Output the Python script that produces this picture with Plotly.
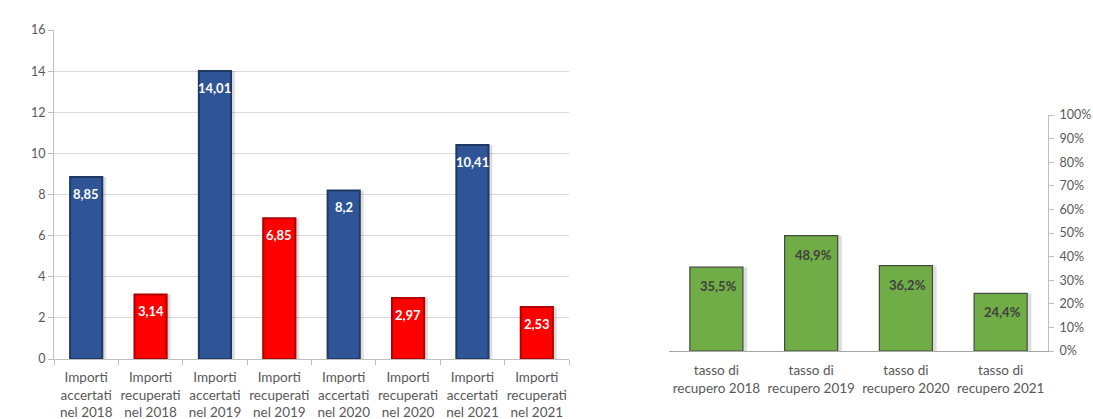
import plotly.graph_objects as go

# Importi accertati / recuperati (left panel)
categorie = [
    "Importi<br>accertati<br>nel 2018", "Importi<br>recuperati<br>nel 2018",
    "Importi<br>accertati<br>nel 2019", "Importi<br>recuperati<br>nel 2019",
    "Importi<br>accertati<br>nel 2020", "Importi<br>recuperati<br>nel 2020",
    "Importi<br>accertati<br>nel 2021", "Importi<br>recuperati<br>nel 2021",
]
importi = [8.85, 3.14, 14.01, 6.85, 8.2, 2.97, 10.41, 2.53]
etichette_importi = ["8,85", "3,14", "14,01", "6,85", "8,2", "2,97", "10,41", "2,53"]
tipo = ["accertati", "recuperati"] * 4

# Tasso di recupero (right panel)
categorie_tasso = [
    "tasso di<br>recupero 2018", "tasso di<br>recupero 2019",
    "tasso di<br>recupero 2020", "tasso di<br>recupero 2021",
]
tasso = [0.355, 0.489, 0.362, 0.244]
etichette_tasso = ["35,5%", "48,9%", "36,2%", "24,4%"]

W, H = 1093, 419
FONT = "Lato, 'Open Sans', sans-serif"
GREY = "#595959"

fill = {"accertati": "#2F5597", "recuperati": "#FF0000"}
edge = {"accertati": "#1F3864", "recuperati": "#B00000"}

fig = go.Figure()

# soft drop shadows behind the bars
fig.add_trace(go.Bar(
    x=categorie, y=importi, width=0.5, offset=-0.25 + 0.06,
    marker=dict(color="rgba(0,0,0,0.13)", line=dict(width=0)),
    xaxis="x", yaxis="y", hoverinfo="skip", showlegend=False,
))
fig.add_trace(go.Bar(
    x=categorie, y=importi, width=0.5, offset=-0.25,
    marker=dict(color=[fill[t] for t in tipo],
                line=dict(color=[edge[t] for t in tipo], width=2)),
    xaxis="x", yaxis="y", showlegend=False,
))

fig.add_trace(go.Bar(
    x=categorie_tasso, y=tasso, width=0.56, offset=-0.28 + 0.045,
    marker=dict(color="rgba(0,0,0,0.13)", line=dict(width=0)),
    xaxis="x2", yaxis="y2", hoverinfo="skip", showlegend=False,
))
fig.add_trace(go.Bar(
    x=categorie_tasso, y=tasso, width=0.56, offset=-0.28,
    marker=dict(color="#70AD47", line=dict(color="#454B41", width=1.2)),
    xaxis="x2", yaxis="y2", showlegend=False,
))

# value labels inside the top of each bar
for c, v, t in zip(categorie, importi, etichette_importi):
    fig.add_annotation(x=c, y=v, text=f"<b>{t}</b>", xref="x", yref="y",
                       yanchor="top", yshift=-7, showarrow=False,
                       font=dict(family=FONT, size=13, color="white"))
for c, v, t in zip(categorie_tasso, tasso, etichette_tasso):
    fig.add_annotation(x=c, y=v, text=f"<b>{t}</b>", xref="x2", yref="y2",
                       yanchor="top", yshift=-9, xshift=2, showarrow=False,
                       font=dict(family=FONT, size=13, color="#404040"))

fig.update_layout(
    width=W, height=H,
    margin=dict(l=0, r=0, t=0, b=0),
    paper_bgcolor="white", plot_bgcolor="white",
    font=dict(family=FONT, size=13, color=GREY),
    bargap=0.5,
    xaxis=dict(
        domain=[54 / W, 569 / W], anchor="y", automargin=False, tickangle=0,
        showline=True, linecolor="#BFBFBF", linewidth=1,
        ticks="outside", tickson="boundaries", ticklen=5, tickcolor="#BFBFBF",
        ticklabelstandoff=6,
        tickfont=dict(family=FONT, size=13.5, color=GREY),
        showgrid=False, fixedrange=True,
    ),
    yaxis=dict(
        domain=[(H - 359) / H, (H - 30) / H], anchor="x", automargin=False,
        range=[0, 16], dtick=2,
        showline=True, linecolor="#BFBFBF", linewidth=1,
        ticks="outside", ticklen=5, tickcolor="#BFBFBF",
        showgrid=True, gridcolor="#D9D9D9", gridwidth=1,
        zeroline=False,
        tickfont=dict(family=FONT, size=12.5, color=GREY),
    ),
    xaxis2=dict(
        domain=[669 / W, 1048 / W], anchor="y2", automargin=False, tickangle=0,
        showline=True, linecolor="#A6A6A6", linewidth=1,
        ticks="", showgrid=False, ticklabelstandoff=7,
        tickfont=dict(family=FONT, size=13.5, color=GREY),
    ),
    yaxis2=dict(
        domain=[(H - 351) / H, (H - 115) / H], anchor="x2", automargin=False,
        side="right", range=[0, 1], dtick=0.1, tickformat=".0%",
        showline=True, linecolor="#BFBFBF", linewidth=1,
        ticks="outside", ticklen=5, tickcolor="#BFBFBF", ticklabelstandoff=3,
        showgrid=False, zeroline=False,
        tickfont=dict(family=FONT, size=12.5, color=GREY),
    ),
)

fig.write_html("out.html")
